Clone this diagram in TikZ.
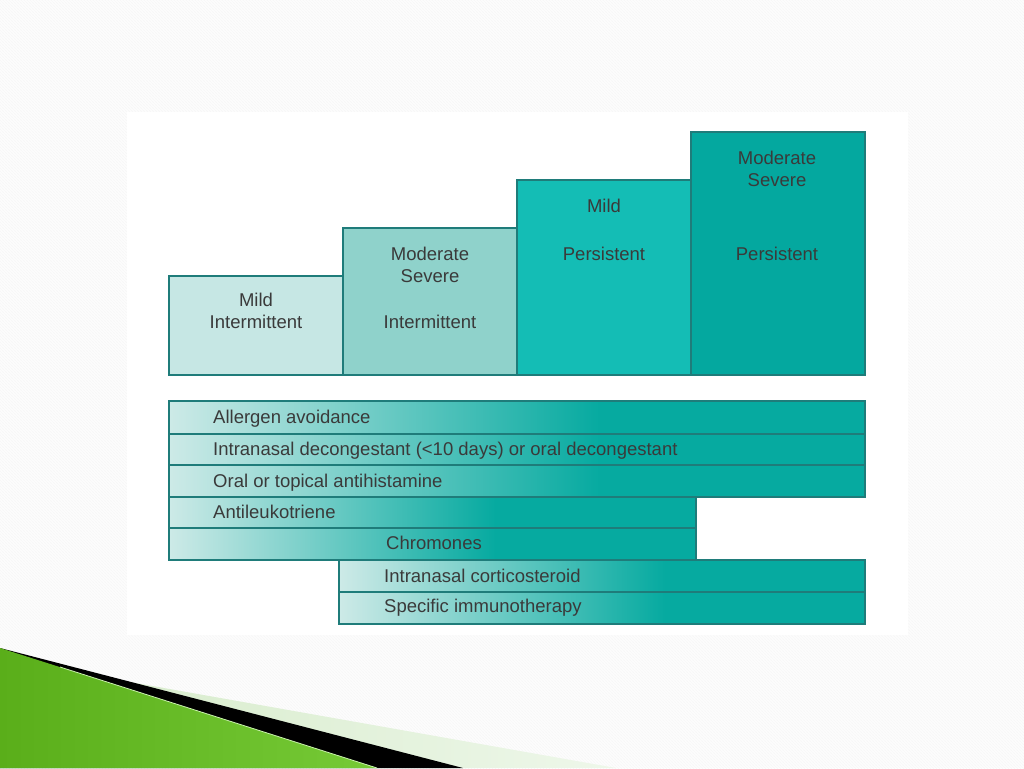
\documentclass[tikz,border=0pt]{standalone}
\usepackage{fontspec}
\setmainfont{Liberation Sans}
\usetikzlibrary{patterns}
\definecolor{bgc}{HTML}{FDFDFD}
\definecolor{edgec}{HTML}{1F7C7A}
\definecolor{cA}{HTML}{C6E7E4}
\definecolor{cB}{HTML}{8FD2CB}
\definecolor{cC}{HTML}{14BDB5}
\definecolor{cD}{HTML}{04A89F}
\definecolor{barlight}{HTML}{CDEAE7}
\definecolor{barteal}{HTML}{06AAA0}
\definecolor{txtc}{HTML}{3A3A3A}
\definecolor{gdark}{HTML}{5AAE1A}
\definecolor{gbright}{HTML}{96E85C}
\definecolor{gmid}{HTML}{76CA36}
\definecolor{paleA}{HTML}{D3EAC6}
\definecolor{paleB}{HTML}{EEF7EA}
\pgfdeclarehorizontalshading{barshade}{100bp}{color(0bp)=(barlight); color(25bp)=(barlight); color(56bp)=(barteal); color(100bp)=(barteal)}
\tikzset{
  stage/.style={draw=edgec, line width=1.2pt, anchor=north west, minimum width=174pt, inner sep=0pt, outer sep=0pt},
  bar/.style={draw=edgec, line width=1.2pt, anchor=north west, shading=barshade, inner sep=0pt, outer sep=0pt},
  lab/.style={font=\fontsize{18.5}{22}\selectfont, text=txtc, anchor=base, inner sep=0pt},
  barlab/.style={font=\fontsize{18.5}{22}\selectfont, text=txtc, anchor=base west, inner sep=0pt}
}
\begin{document}
\begin{tikzpicture}[x=1pt,y=-1pt]
\useasboundingbox (0,0) rectangle (1024,768);
% background
\fill[bgc] (0,0) rectangle (1024,768);
\fill[pattern=north west lines, pattern color=black!3] (0,0) rectangle (1024,768);
% panel
\fill[white] (127,112) rectangle (908,635);
% top stages
\node[stage, fill=cA, minimum height=99pt] (s1) at (169,276) {};
\node[stage, fill=cB, minimum height=147pt] (s2) at (343,228) {};
\node[stage, fill=cC, minimum height=195pt] (s3) at (517,180) {};
\node[stage, fill=cD, minimum height=243pt] (s4) at (691,132) {};
\node[lab] (s1a) at (256,306) {Mild};
\node[lab] (s1b) at (256,328) {Intermittent};
\node[lab] (s2a) at (430,260) {Moderate};
\node[lab] (s2b) at (430,282) {Severe};
\node[lab] (s2c) at (430,328) {Intermittent};
\node[lab] (s3a) at (604,212) {Mild};
\node[lab] (s3b) at (604,260) {Persistent};
\node[lab] (s4a) at (777,164) {Moderate};
\node[lab] (s4b) at (777,186) {Severe};
\node[lab] (s4c) at (777,260) {Persistent};
% treatment bars
\node[bar, minimum width=696pt, minimum height=33pt] (b1) at (169,401) {};
\node[bar, minimum width=696pt, minimum height=31pt] (b2) at (169,434) {};
\node[bar, minimum width=696pt, minimum height=32pt] (b3) at (169,465) {};
\node[bar, minimum width=527pt, minimum height=31pt] (b4) at (169,497) {};
\node[bar, minimum width=527pt, minimum height=32pt] (b5) at (169,528) {};
\node[bar, minimum width=526pt, minimum height=32pt] (b6) at (339,560) {};
\node[bar, minimum width=526pt, minimum height=32pt] (b7) at (339,592) {};
\node[barlab] (t1) at (213,423) {Allergen avoidance};
\node[barlab] (t2) at (213,455) {Intranasal decongestant (<10 days) or oral decongestant};
\node[barlab] (t3) at (213,487) {Oral or topical antihistamine};
\node[barlab] (t4) at (213,518) {Antileukotriene};
\node[barlab] (t5) at (386,549) {Chromones};
\node[barlab] (t6) at (384,582) {Intranasal corticosteroid};
\node[barlab] (t7) at (384,612) {Specific immunotherapy};
% decoration bottom left
\shade[left color=paleA, right color=paleB] (0,659) -- (616,768) -- (0,768) -- cycle;
\fill[black] (0,648) -- (463,768) -- (0,768) -- cycle;
\shade[left color=gdark, middle color=gbright, right color=gmid] (0,648) -- (377,768) -- (0,768) -- cycle;
\draw[gbright!50!white, line width=0.8pt] (60,667) -- (377,768);
\end{tikzpicture}
\end{document}
